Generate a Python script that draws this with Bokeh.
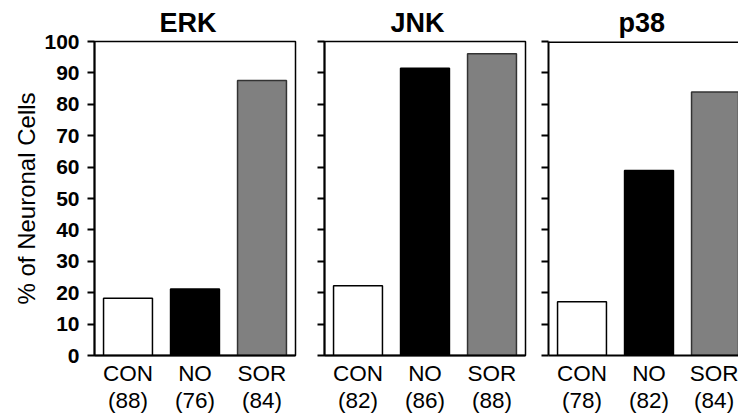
from bokeh.plotting import figure
from bokeh.layouts import row
from bokeh.models import Range1d, FixedTicker, Span, ColumnDataSource
from bokeh.embed import file_html
from bokeh.resources import INLINE

# ---- data ----
categories = ["CON", "NO", "SOR"]
panel_titles = ["ERK", "JNK", "p38"]
erk_values = [18.2, 21.2, 87.6]
jnk_values = [22.2, 91.5, 96.1]
p38_values = [17.1, 58.9, 83.9]
erk_n = [88, 76, 84]
jnk_n = [82, 86, 88]
p38_n = [78, 82, 84]
y_ticks = [0, 10, 20, 30, 40, 50, 60, 70, 80, 90, 100]
bar_fill = ["#ffffff", "#000000", "#808080"]
bar_line = ["#000000", "#000000", "#333333"]
y_label = "% of Neuronal Cells"

FONT = "Liberation Sans"
FRAME_W = 201
FRAME_H = 314


def make_panel(title, values, counts, left, right, frame_w, show_ylabels, title_offset):
    x_end = len(categories) * frame_w / FRAME_W
    p = figure(frame_width=frame_w, frame_height=FRAME_H, output_backend="svg",
               toolbar_location=None,
               x_range=Range1d(0, x_end), y_range=Range1d(0, 100),
               min_border_left=left, min_border_right=right,
               min_border_top=41, min_border_bottom=58)
    xs = [i + 0.5 for i in range(len(categories))]
    src = ColumnDataSource(dict(x=xs, top=values, fill=bar_fill, line=bar_line))
    p.vbar(x="x", top="top", bottom=0, width=0.73, source=src,
           fill_color="fill", line_color="line", line_width=1.5)

    p.title.text = title
    p.title.align = "left"
    p.title.offset = title_offset
    p.title.text_font = FONT
    p.title.text_font_size = "27px"
    p.title.text_font_style = "bold"
    p.title.text_color = "black"
    p.title.standoff = 8

    p.xgrid.visible = False
    p.ygrid.visible = False
    p.outline_line_color = "black"
    p.outline_line_width = 1.5
    p.background_fill_color = "white"
    p.border_fill_color = "white"

    xa = p.xaxis[0]
    xa.ticker = FixedTicker(ticks=xs)
    xa.major_label_overrides = {x: f"{c}\n({n})" for x, c, n in zip(xs, categories, counts)}
    xa.major_tick_in = 0
    xa.major_tick_out = 0
    xa.minor_tick_in = 0
    xa.minor_tick_out = 0
    xa.axis_line_width = 2
    xa.axis_line_color = "black"
    xa.major_label_text_font = FONT
    xa.major_label_text_font_size = "22.5px"
    xa.major_label_text_line_height = 1.08
    xa.major_label_text_color = "black"
    xa.major_label_standoff = 5

    ya = p.yaxis[0]
    ya.ticker = FixedTicker(ticks=y_ticks)
    ya.major_tick_in = 0
    ya.major_tick_out = 7
    ya.major_tick_line_width = 2
    ya.minor_tick_in = 0
    ya.minor_tick_out = 0
    ya.axis_line_width = 2
    ya.axis_line_color = "black"
    ya.major_label_standoff = 8
    ya.major_label_text_font = FONT
    ya.major_label_text_font_style = "bold"
    ya.major_label_text_color = "black"
    ya.major_label_text_font_size = "21px"
    if show_ylabels:
        ya.axis_label = y_label
        ya.axis_label_text_font = FONT
        ya.axis_label_text_font_size = "24px"
        ya.axis_label_text_font_style = "normal"
        ya.axis_label_text_color = "black"
        ya.axis_label_standoff = 1
    else:
        ya.major_label_overrides = {t: "" for t in y_ticks}
        ya.major_label_standoff = 0
    return p


p1 = make_panel(panel_titles[0], erk_values, erk_n, 94, 5, FRAME_W, True, 65)
p2 = make_panel(panel_titles[1], jnk_values, jnk_n, 24, 5, FRAME_W, False, 66)
p3 = make_panel(panel_titles[2], p38_values, p38_n, 18, 0, 190, False, 70)
# third panel is cut at the right edge in the reference: no right border line
p3.outline_line_color = None
p3.add_layout(Span(location=100, dimension="width", line_color="black", line_width=3))

layout = row(p1, p2, p3, spacing=0)
open("out.html", "w").write(file_html(layout, INLINE))
